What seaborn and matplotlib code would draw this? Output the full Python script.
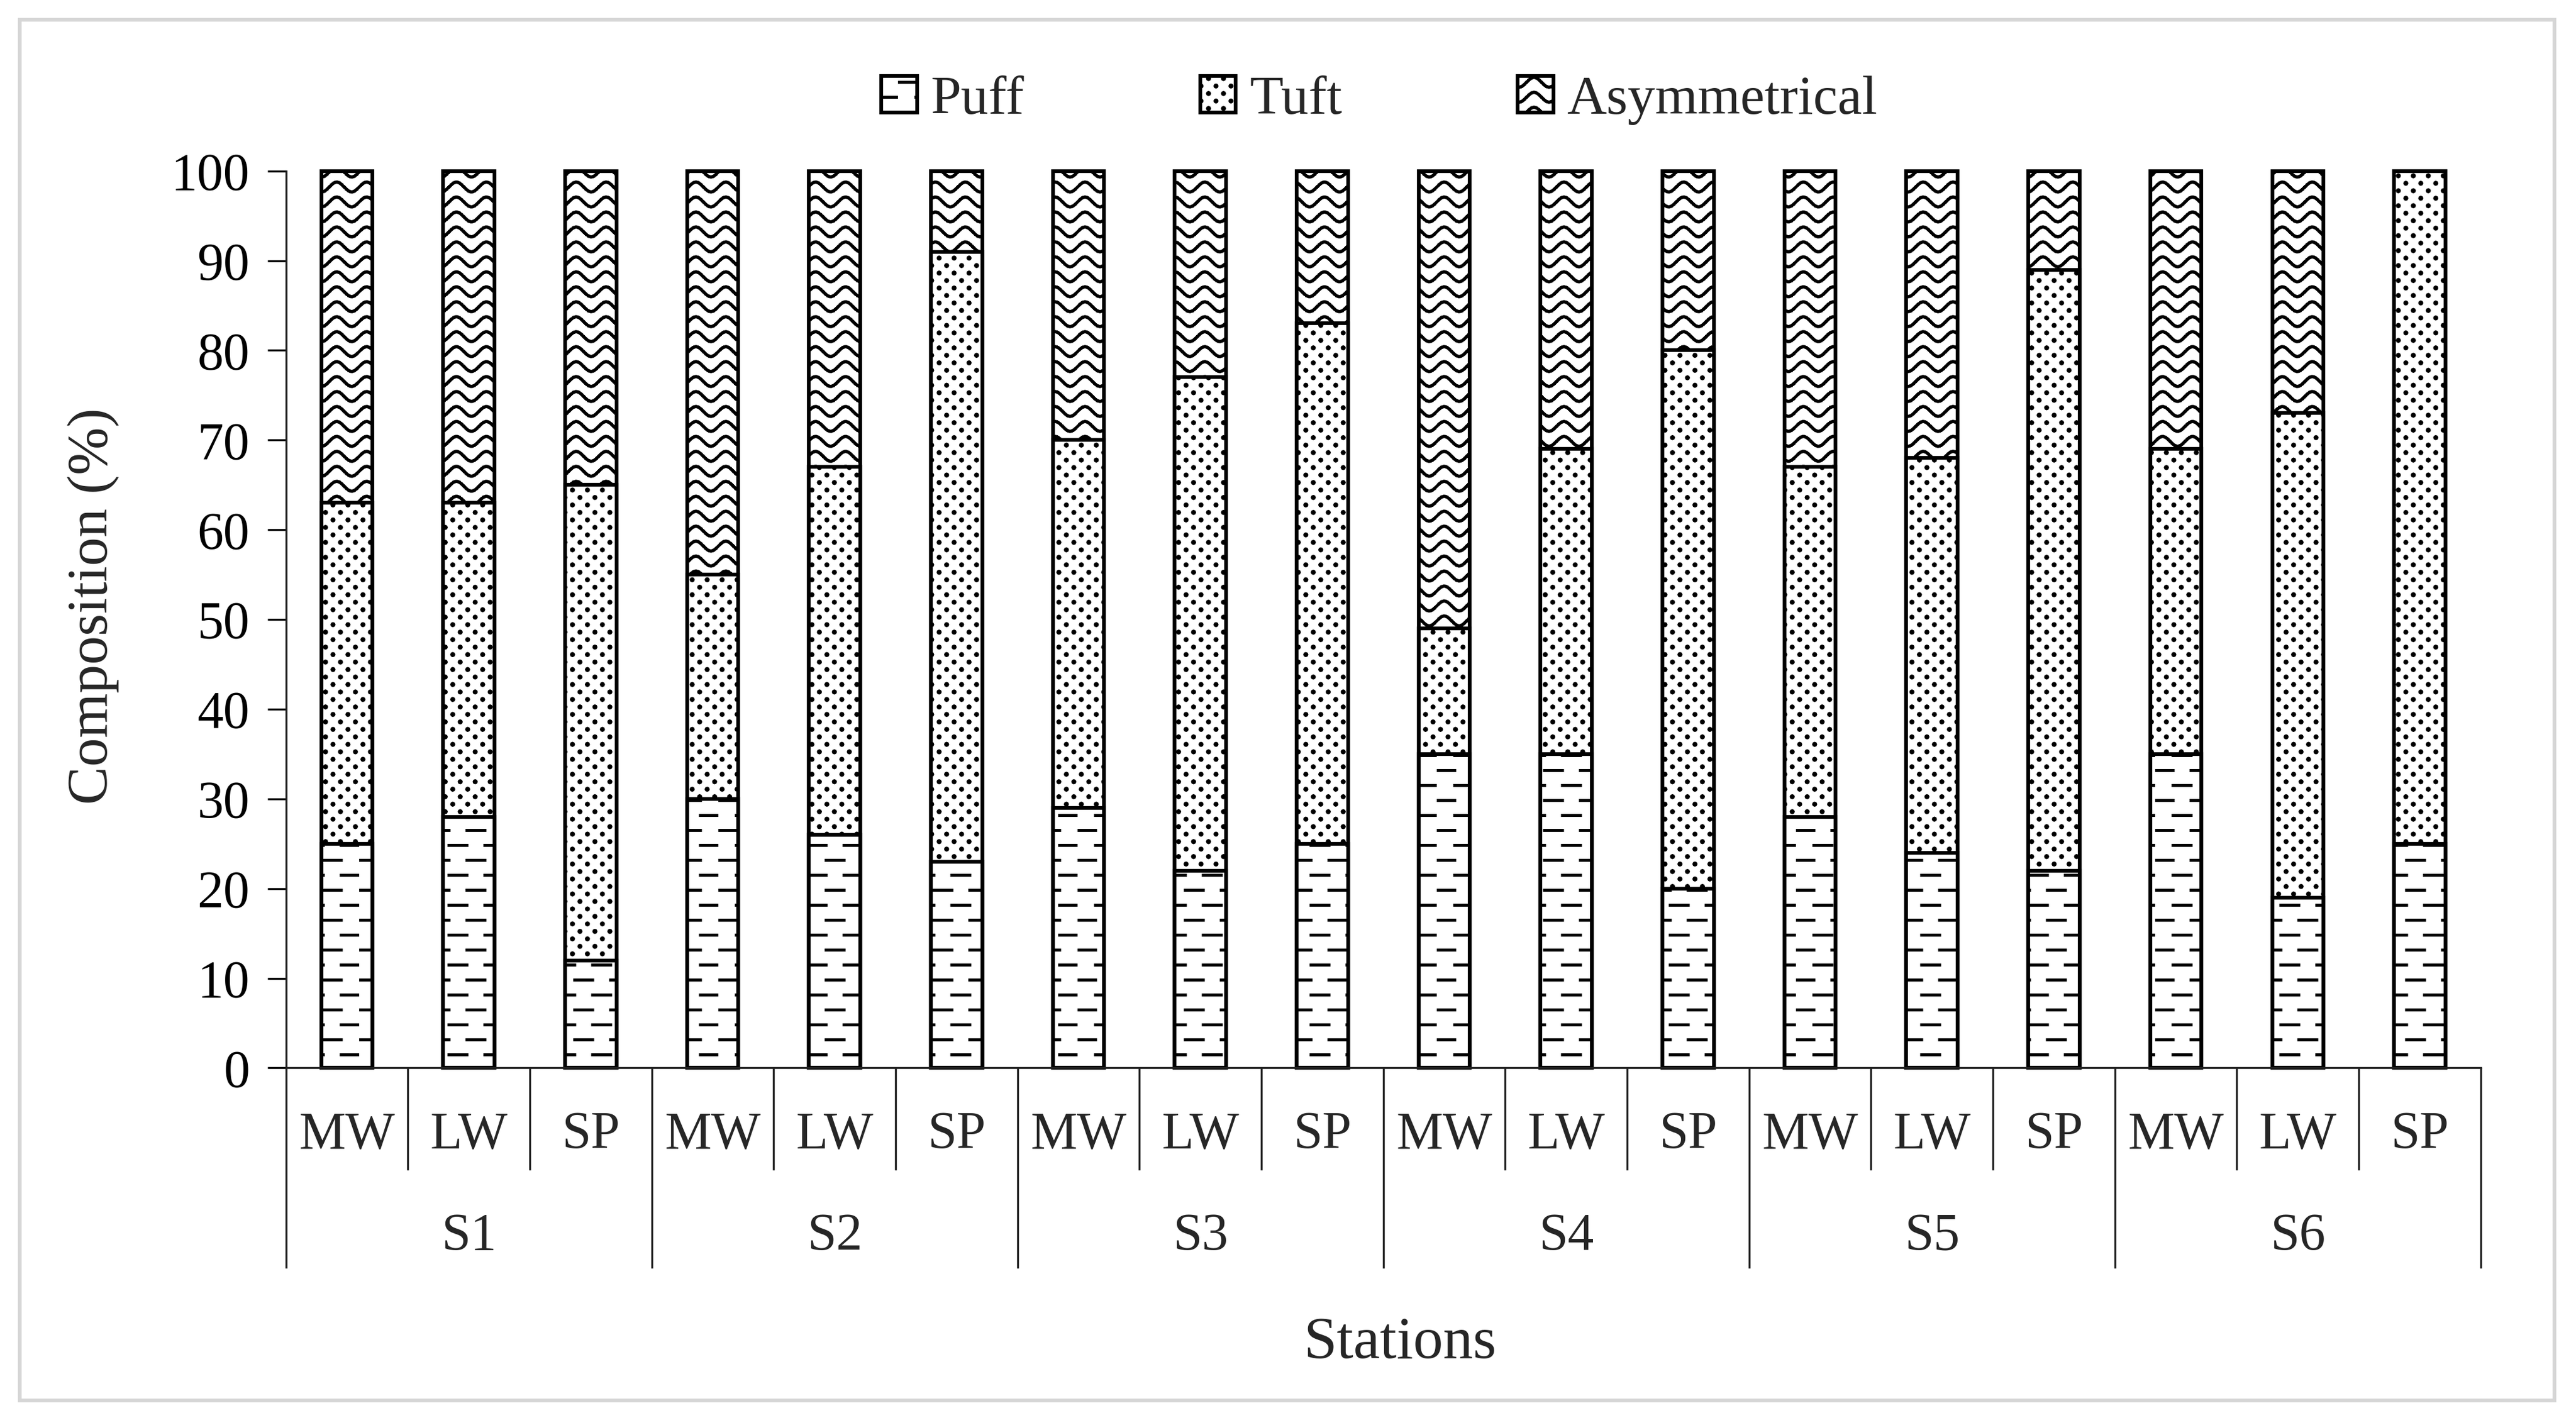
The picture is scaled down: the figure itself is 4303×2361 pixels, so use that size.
import numpy as np
import pandas as pd
import matplotlib
matplotlib.use("Agg")
import matplotlib.pyplot as plt
import matplotlib.hatch as mhatch
from matplotlib.path import Path
from matplotlib.patches import Patch, Rectangle
import seaborn as sns

# Data (% composition per station / season)
stations = ["S1", "S2", "S3", "S4", "S5", "S6"]
seasons = ["MW", "LW", "SP"]

puff = [25, 28, 12, 30, 26, 23, 29, 22, 25, 35, 35, 20, 28, 24, 22, 35, 19, 25]
tuft = [38, 35, 53, 25, 41, 68, 41, 55, 58, 14, 34, 60, 39, 44, 67, 34, 54, 75]
asym = [37, 37, 35, 45, 33, 9, 30, 23, 17, 51, 31, 20, 33, 32, 11, 31, 27, 0]

legend_labels = ["Puff", "Tuft", "Asymmetrical"]
y_ticks = [0, 10, 20, 30, 40, 50, 60, 70, 80, 90, 100]


# Custom hatch patterns: staggered dashes ('-'), waves ('|'), dots ('.')
class DashHatch(mhatch.HatchPatternBase):
    def __init__(self, hatch, density):
        self.rows = 12 if "-" in hatch else 0
        self.per_row = 5
        self.num_vertices = self.rows * self.per_row * 2

    def set_vertices_and_codes(self, vertices, codes):
        step = 1.0 / self.per_row
        n = 0
        for i in range(self.rows):
            y = (i + 0.5) / self.rows
            shift = 0.5 * step * (i % 2)
            for k in range(self.per_row):
                x0 = k * step + shift
                vertices[n] = (x0, y)
                vertices[n + 1] = (x0 + 0.5 * step, y)
                codes[n] = Path.MOVETO
                codes[n + 1] = Path.LINETO
                n += 2


class WaveHatch(mhatch.HatchPatternBase):
    def __init__(self, hatch, density):
        self.rows = 12 if "|" in hatch else 0
        self.waves = 6
        self.steps = 12
        self.num_vertices = self.rows * self.waves * self.steps * 2

    def set_vertices_and_codes(self, vertices, codes):
        xs = np.linspace(0, 1, self.waves * self.steps + 1)
        n = 0
        for i in range(self.rows):
            y = (i + 0.5) / self.rows
            ys = y + 0.027 * np.sin(2 * np.pi * self.waves * xs)
            for a in range(len(xs) - 1):
                vertices[n] = (xs[a], ys[a])
                vertices[n + 1] = (xs[a + 1], ys[a + 1])
                codes[n] = Path.MOVETO
                codes[n + 1] = Path.LINETO
                n += 2


class DotHatch(mhatch.HatchPatternBase):
    def __init__(self, hatch, density):
        self.rows = 24 if "." in hatch else 0
        self.cols = 12
        self.num_vertices = self.rows * self.cols * 9

    def set_vertices_and_codes(self, vertices, codes):
        ang = np.linspace(0, 2 * np.pi, 9)[:-1]
        ring = np.column_stack([np.cos(ang), np.sin(ang)]) * 0.0055
        n = 0
        for i in range(self.rows):
            y = (i + 0.5) / self.rows
            off = 0.25 if i % 2 == 0 else 0.75
            for k in range(self.cols):
                x = (k + off) / self.cols
                vertices[n:n + 8] = ring + (x, y)
                vertices[n + 8] = vertices[n]
                codes[n] = Path.MOVETO
                codes[n + 1:n + 8] = Path.LINETO
                codes[n + 8] = Path.CLOSEPOLY
                n += 9


mhatch._hatch_types = [DashHatch, WaveHatch, DotHatch]

sns.set_style("ticks")
plt.rcParams["font.family"] = ["Liberation Serif", "DejaVu Serif"]
plt.rcParams["hatch.linewidth"] = 1.2
plt.rcParams["hatch.color"] = "black"

# long table
rows = []
i = 0
for st in stations:
    for se in seasons:
        rows.append({"station": st, "season": se, "label": st + "-" + se,
                     "Puff": puff[i], "Tuft": tuft[i], "Asymmetrical": asym[i]})
        i += 1
df = pd.DataFrame(rows)
df["puff_tuft"] = df["Puff"] + df["Tuft"]
df["total"] = df["puff_tuft"] + df["Asymmetrical"]
order = list(df["label"])

fig = plt.figure(figsize=(4303 / 300, 2361 / 300), dpi=300)
ax = fig.add_axes([0.111, 0.2442, 0.852, 0.6348])

bar_kw = dict(order=order, color="white", saturation=1, edgecolor="black",
              linewidth=1.5, width=0.42, errorbar=None, clip_on=False, ax=ax)
sns.barplot(data=df, x="label", y="total", hatch="|", **bar_kw)
sns.barplot(data=df, x="label", y="puff_tuft", hatch=".", **bar_kw)
sns.barplot(data=df, x="label", y="Puff", hatch="-", **bar_kw)

ax.set_xlim(-0.5, len(order) - 0.5)
ax.set_ylim(0, 100)
ax.set_yticks(y_ticks)
ax.tick_params(axis="y", direction="out", length=7.5, width=0.8, labelsize=21,
               pad=7, colors="black")
ax.tick_params(axis="x", length=0, labelbottom=False)
ax.set_xlabel("")
ax.set_ylabel("Composition (%)", fontsize=23)
ax.yaxis.set_label_coords(-0.076, 0.515)
sns.despine(ax=ax, top=True, right=True)
for sp in ["left", "bottom"]:
    ax.spines[sp].set_linewidth(0.8)
    ax.spines[sp].set_color("#222222")

# grouped category axis
xt = ax.get_xaxis_transform()
edges = np.arange(len(order) + 1) - 0.5
for j, e in enumerate(edges):
    depth = -0.2234 if j % 3 == 0 else -0.1136
    ax.plot([e, e], [0, depth], transform=xt, color="#222222", lw=0.8,
            clip_on=False, solid_capstyle="butt")
for j, lab in enumerate(df["season"]):
    ax.text(j, -0.075, lab, transform=xt, ha="center", va="center", fontsize=21)
for s, st in enumerate(stations):
    ax.text(3 * s + 1, -0.188, st, transform=xt, ha="center", va="center", fontsize=21)
ax.text(0.5075, -0.307, "Stations", transform=ax.transAxes, ha="center",
        va="center", fontsize=24)

# legend
handles = [Patch(facecolor="white", edgecolor="black", hatch=h, linewidth=1.5, label=l)
           for h, l in zip(["-", ".", "|"], legend_labels)]
fig.legend(handles=handles, ncol=3, loc="center", bbox_to_anchor=(0.5355, 0.929),
           frameon=False, fontsize=22, handlelength=0.65, handleheight=0.65,
           handletextpad=0.25, columnspacing=3.2)

# light frame around the figure
fig.patches.append(Rectangle((0.0077, 0.009), 0.9839, 0.977, transform=fig.transFigure,
                             fill=False, edgecolor="#d6d6d6", linewidth=1.5))

fig.savefig("out.png", dpi=300, facecolor="white")
